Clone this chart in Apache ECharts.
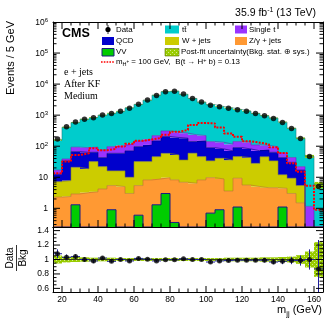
<!DOCTYPE html>
<html>
<head>
<meta charset="utf-8">
<script src="https://cdn.jsdelivr.net/npm/echarts@6/dist/echarts.min.js"></script>
<style>
html, body { margin: 0; padding: 0; background: #fff; }
#chart { width: 332px; height: 322px; }
</style>
</head>
<body>
<div id="chart"></div>
<script>
// bins of 5 GeV in m_jj
const binLow = [15, 20, 25, 30, 35, 40, 45, 50, 55, 60, 65, 70, 75, 80, 85, 90, 95, 100, 105, 110, 115, 120, 125, 130, 135, 140, 145, 150, 155, 160];
const binWidth = 5;

const dataCounts = [170, 420, 600, 740, 830, 1020, 1130, 1340, 1680, 2260, 3050, 4310, 5660, 5940, 4760, 3450, 2630, 2100, 1860, 1680, 1500, 1345, 1130, 950, 780, 580, 371, 177, 47, 5];

// backgrounds, bottom of the stack first
const vv = [0, 0, 1.3, 0, 0, 0, 0.9, 0, 0, 0.6, 0, 1.3, 3.0, 0.35, 0, 0, 0, 0.7, 0.9, 0, 1.1, 0, 0, 0, 0, 1.1, 0, 0, 0, 0];
const zjets = [2.3, 2.4, 1.6, 3.2, 3.4, 4.2, 4.5, 5.0, 3.0, 4.8, 8.2, 7.5, 6.7, 7.9, 6.9, 6.4, 8.2, 9.0, 7.9, 3.6, 8.2, 5.6, 5.0, 4.6, 4.6, 3.3, 3.0, 1.5, 0, 0];
const wjets = [4.9, 5.4, 18, 15.4, 28.6, 17.8, 10.6, 11, 7, 26.6, 23.8, 37, 49, 44, 29, 53, 38, 24, 32, 32, 37, 37, 23, 41, 29, 7.6, 6.3, 3.9, 0, 0];
const qcd = [5.3, 26, 46, 45, 32, 21, 43, 43, 61, 65, 78, 103, 146, 138, 145, 82, 103, 56, 41, 35, 44, 39, 43, 30, 30, 31, 21, 11.6, 0, 0];
const singleTop = [4.5, 5, 26, 26, 29, 33, 38, 46, 48, 51, 58, 71, 105, 92, 82, 91, 71, 51, 52, 45, 51, 52, 39, 30, 33, 18, 13, 5, 1.15, 0];
const ttbar = [140, 369, 484, 650, 754, 924, 1062, 1235, 1595, 2079, 2867, 4180, 5380, 5688, 4447, 3218, 2410, 2035, 1768, 1590, 1374, 1225, 1031, 854, 711, 534, 333, 158, 46, 5.7];

// signal m_H+ = 100 GeV
const signal = [13.5, 32, 52, 59, 86, 74, 82, 97, 119, 149, 165, 185, 235, 290, 335, 480, 560, 540, 400, 255, 200, 145, 130, 116, 93, 60, 28, 15, 5.3, 0.9];

// ratio pad
const ratio = [1.08, 1.03, 1.04, 1.0, 0.98, 1.02, 0.975, 1.0, 0.98, 1.015, 1.005, 0.98, 0.995, 0.995, 1.01, 1.0, 1.0, 0.965, 0.98, 0.985, 0.99, 0.99, 0.99, 0.99, 0.965, 0.975, 0.985, 0.985, 1.0, 0.87];
const ratioErr = [0.06, 0.04, 0.03, 0.03, 0.03, 0.02, 0.02, 0.02, 0.02, 0.02, 0.015, 0.015, 0.01, 0.01, 0.015, 0.015, 0.02, 0.02, 0.02, 0.02, 0.02, 0.02, 0.02, 0.03, 0.03, 0.04, 0.05, 0.07, 0.14, 0.4];
const bandErr = [0.055, 0.04, 0.035, 0.03, 0.025, 0.025, 0.025, 0.02, 0.02, 0.02, 0.02, 0.02, 0.02, 0.02, 0.02, 0.02, 0.02, 0.02, 0.02, 0.025, 0.025, 0.025, 0.025, 0.03, 0.03, 0.035, 0.04, 0.06, 0.11, 0.24];

// tick labels
const xTickLabels = [20, 40, 60, 80, 100, 120, 140, 160];
const yTickLabels = [1, 10, 100, 1000, 10000, 100000];
const ratioTickLabels = [0.6, 0.8, 1, 1.2, 1.4];

const xMin = 15, xMax = 165, yMin = 0.25, yMax = 1e6, rMin = 0.55, rMax = 1.45;
const FONT = '"Liberation Sans", Arial, "DejaVu Sans", sans-serif';
const SERIF = '"Liberation Serif", "Times New Roman", serif';
const LEG = 7.9;

const layers = [
    {values: vv, color: '#00cc00', line: '#1a1a80', lw: 1},
    {values: zjets, color: '#ff9933', line: '#b8732e', lw: 0.6},
    {values: wjets, color: '#cccc00', line: '#8c8c1a', lw: 0.6},
    {values: qcd, color: '#0000cc', line: '#00007a', lw: 0.6},
    {values: singleTop, color: '#9933ff', line: '#6a23b0', lw: 0.6},
    {values: ttbar, color: '#00cccc', line: '#1a8080', lw: 0.6},
];

function dots(base, dot) {
    const c = document.createElement('canvas');
    c.width = 4; c.height = 4;
    const g = c.getContext('2d');
    g.fillStyle = base; g.fillRect(0, 0, 4, 4);
    g.fillStyle = dot; g.fillRect(0, 0, 1, 1); g.fillRect(2, 2, 1, 1);
    return {image: c, repeat: 'repeat'};
}
const uncFill = dots('#99cc00', '#d6ec8c');

function rectItem(fill) {
    return function (params, api) {
        const lo = api.value(2), hi = api.value(3);
        if (!(hi > lo)) return null;
        const a = api.coord([api.value(0), hi]);
        const b = api.coord([api.value(1), lo]);
        return {type: 'rect', shape: {x: a[0], y: a[1], width: b[0] - a[0], height: b[1] - a[1]}, style: {fill}};
    };
}

const series = [];
const cum = binLow.map(() => 0);
layers.forEach(l => {
    const items = [];
    const tops = [];
    binLow.forEach((x, i) => {
        const base = cum[i];
        cum[i] += l.values[i];
        items.push([x, x + binWidth, Math.max(base, yMin), Math.max(cum[i], yMin)]);
        tops.push([x, Math.max(cum[i], yMin)]);
    });
    tops.push([xMax, tops[tops.length - 1][1]]);
    series.push({
        type: 'custom', xAxisIndex: 0, yAxisIndex: 0, z: 2, silent: true,
        encode: {x: [0, 1], y: [2, 3]},
        renderItem: rectItem(l.color), data: items,
    });
    series.push({
        type: 'line', xAxisIndex: 0, yAxisIndex: 0, z: 3, step: 'end', symbol: 'none', silent: true,
        lineStyle: {color: l.line, width: l.lw}, data: tops,
    });
});
const total = cum.slice();

// stat+sys band on top of the stack
series.push({
    type: 'custom', xAxisIndex: 0, yAxisIndex: 0, z: 3, silent: true,
    encode: {x: [0, 1], y: [2, 3]},
    renderItem: rectItem(uncFill),
    data: binLow.map((x, i) => [x, x + binWidth, total[i] * (1 - bandErr[i]), total[i] * (1 + bandErr[i])]),
});

// signal
const sig = binLow.map((x, i) => [x, signal[i]]);
sig.push([xMax, signal[signal.length - 1]]);
series.push({
    type: 'line', xAxisIndex: 0, yAxisIndex: 0, z: 4, step: 'end', symbol: 'none', silent: true,
    lineStyle: {color: '#ff0000', width: 2, type: [2, 1.3]}, data: sig,
});

// data
series.push({
    type: 'scatter', xAxisIndex: 0, yAxisIndex: 0, z: 5, silent: true,
    symbol: 'circle', symbolSize: 5.5, itemStyle: {color: '#000'},
    data: binLow.map((x, i) => [x + binWidth / 2, dataCounts[i]]),
});

// ratio pad
series.push({
    type: 'custom', xAxisIndex: 2, yAxisIndex: 2, z: 2, silent: true,
    encode: {x: [0, 1], y: [2, 3]},
    renderItem: rectItem(uncFill),
    data: binLow.map((x, i) => [x, x + binWidth, 1 - bandErr[i], 1 + bandErr[i]]),
});
series.push({
    type: 'line', xAxisIndex: 2, yAxisIndex: 2, z: 3, symbol: 'none', silent: true,
    lineStyle: {color: '#222', width: 0.8}, data: [[xMin, 1], [xMax, 1]],
});
series.push({
    type: 'custom', xAxisIndex: 2, yAxisIndex: 2, z: 4, silent: true,
    encode: {x: 0, y: 1},
    renderItem: function (params, api) {
        const xc = api.value(0), r = api.value(1), e = api.value(2);
        const l = api.coord([xc - binWidth / 2, r]), rr = api.coord([xc + binWidth / 2, r]);
        const up = api.coord([xc, Math.min(r + e, rMax)]), dn = api.coord([xc, Math.max(r - e, rMin)]);
        const st = {stroke: '#1c1c9c', lineWidth: 1};
        return {type: 'group', children: [
            {type: 'line', shape: {x1: l[0], y1: l[1], x2: rr[0], y2: rr[1]}, style: st},
            {type: 'line', shape: {x1: up[0], y1: up[1], x2: dn[0], y2: dn[1]}, style: st},
        ]};
    },
    data: binLow.map((x, i) => [x + binWidth / 2, ratio[i], ratioErr[i]]),
});
series.push({
    type: 'scatter', xAxisIndex: 2, yAxisIndex: 2, z: 5, silent: true,
    symbol: 'circle', symbolSize: 5, itemStyle: {color: '#000'},
    data: binLow.map((x, i) => [x + binWidth / 2, ratio[i]]),
});

// ROOT style ticks: [x, y, kind, length]; kind 0 bottom, 1 top, 2 left, 3 right
function tickSeries(xi, yi, ticks) {
    return {
        type: 'custom', xAxisIndex: xi, yAxisIndex: yi, z: 12, silent: true,
        encode: {x: 0, y: 1},
        renderItem: function (params, api) {
            const cs = params.coordSys;
            const p = api.coord([api.value(0), api.value(1)]);
            const k = api.value(2), len = api.value(3);
            let s;
            if (k === 0) s = {x1: p[0], y1: cs.y + cs.height, x2: p[0], y2: cs.y + cs.height - len};
            else if (k === 1) s = {x1: p[0], y1: cs.y, x2: p[0], y2: cs.y + len};
            else if (k === 2) s = {x1: cs.x, y1: p[1], x2: cs.x + len, y2: p[1]};
            else s = {x1: cs.x + cs.width, y1: p[1], x2: cs.x + cs.width - len, y2: p[1]};
            return {type: 'line', shape: s, style: {stroke: '#000', lineWidth: 1}};
        },
        data: ticks,
    };
}
const mainTicks = [];
const ratioTicks = [];
for (let x = xMin + binWidth; x < xMax; x += binWidth) {
    const major = xTickLabels.includes(x);
    mainTicks.push([x, yMin, 0, major ? 7 : 3.5], [x, yMin, 1, major ? 7 : 3.5]);
    ratioTicks.push([x, rMin, 0, major ? 6 : 3.5]);
}
yTickLabels.forEach(v => mainTicks.push([xMin, v, 2, 7], [xMin, v, 3, 7]));
for (let d = 0.1; d < yMax; d *= 10) {
    for (let m = 2; m <= 9; m++) {
        const v = m * d;
        if (v > yMin && v < yMax) mainTicks.push([xMin, v, 2, 3.5], [xMin, v, 3, 3.5]);
    }
}
for (let j = 1; j < 18; j++) {
    const v = +(rMin + j * 0.05).toFixed(2);
    const major = ratioTickLabels.some(t => Math.abs(t - v) < 1e-6);
    ratioTicks.push([xMin, v, 2, major ? 7 : 3.5], [xMin, v, 3, major ? 7 : 3.5]);
}
series.push(tickSeries(0, 0, mainTicks));
series.push(tickSeries(2, 2, ratioTicks));

const line = {show: true, onZero: false, lineStyle: {color: '#000', width: 1}};
const off = {show: false};
const xBase = {type: 'value', min: xMin, max: xMax, interval: binWidth, z: 10, axisLine: line, axisTick: off, splitLine: off};

function logLabel(v) {
    const e = Math.log10(v), r = Math.round(e);
    if (Math.abs(e - r) > 1e-6) return '';
    if (r === 0) return '{b|1}';
    if (r === 1) return '{b|10}';
    return '{b|10}{s|' + r + '}';
}

function legText(x, y, text) {
    return {type: 'text', x, y, style: {text, fontFamily: FONT, fontSize: LEG, fill: '#000', verticalAlign: 'middle'}};
}

const option = {
    animation: false,
    backgroundColor: '#fff',
    grid: [
        {left: 53, top: 22, width: 270, height: 205},
        {left: 53, top: 227, width: 270, height: 65},
    ],
    xAxis: [
        Object.assign({}, xBase, {gridIndex: 0, position: 'bottom', axisLabel: off}),
        Object.assign({}, xBase, {gridIndex: 0, position: 'top', axisLabel: off}),
        Object.assign({}, xBase, {gridIndex: 1, position: 'bottom', axisLabel: {
            margin: 3, color: '#000', fontFamily: FONT, fontSize: 8.5,
            formatter: v => (xTickLabels.includes(v) ? String(v) : ''),
        }}),
        Object.assign({}, xBase, {gridIndex: 1, position: 'top', axisLabel: off}),
    ],
    yAxis: [
        {gridIndex: 0, type: 'log', position: 'left', min: yMin, max: yMax, z: 10, axisLine: line, axisTick: off, splitLine: off,
            axisLabel: {margin: 5, color: '#000', formatter: logLabel,
                rich: {b: {fontFamily: FONT, fontSize: 8.5, verticalAlign: 'bottom'},
                       s: {fontFamily: FONT, fontSize: 6, verticalAlign: 'bottom', padding: [0, 0, 4, 0]}}}},
        {gridIndex: 0, type: 'log', position: 'right', min: yMin, max: yMax, z: 10, axisLine: line, axisTick: off, splitLine: off, axisLabel: off},
        {gridIndex: 1, type: 'value', position: 'left', min: rMin, max: rMax, interval: 0.05, z: 10, axisLine: line, axisTick: off, splitLine: off,
            axisLabel: {margin: 4, color: '#000', fontFamily: FONT, fontSize: 8.5,
                formatter: v => (ratioTickLabels.some(t => Math.abs(t - v) < 1e-6) ? String(+v.toFixed(1)) : '')}},
        {gridIndex: 1, type: 'value', position: 'right', min: rMin, max: rMax, interval: 0.05, z: 10, axisLine: line, axisTick: off, splitLine: off, axisLabel: off},
    ],
    graphic: [
        {type: 'text', x: 316, y: 13, style: {text: '{b|35.9 fb}{s|-1}{b| (13 TeV)}', align: 'right', verticalAlign: 'middle', fill: '#000',
            rich: {b: {fontFamily: FONT, fontSize: 10.5, verticalAlign: 'bottom'}, s: {fontFamily: FONT, fontSize: 7, verticalAlign: 'bottom', padding: [0, 0, 5, 0]}}}},
        {type: 'text', x: 62, y: 34, style: {text: 'CMS', fontFamily: FONT, fontWeight: 'bold', fontSize: 12.5, fill: '#000', align: 'left', verticalAlign: 'middle'}},
        {type: 'text', x: 64, y: 72, style: {text: 'e + jets', fontFamily: SERIF, fontSize: 10, fill: '#000', verticalAlign: 'middle'}},
        {type: 'text', x: 64, y: 84, style: {text: 'After KF', fontFamily: SERIF, fontSize: 10, fill: '#000', verticalAlign: 'middle'}},
        {type: 'text', x: 64, y: 96, style: {text: 'Medium', fontFamily: SERIF, fontSize: 10, fill: '#000', verticalAlign: 'middle'}},
        {type: 'text', x: 11, y: 21, rotation: Math.PI / 2, style: {text: 'Events / 5 GeV', fontFamily: FONT, fontSize: 11, fill: '#000', align: 'right', verticalAlign: 'middle'}},
        {type: 'text', x: 10, y: 258, rotation: Math.PI / 2, style: {text: 'Data', fontFamily: FONT, fontSize: 10, fill: '#000', align: 'center', verticalAlign: 'middle'}},
        {type: 'line', shape: {x1: 16.5, y1: 245, x2: 16.5, y2: 271}, style: {stroke: '#000', lineWidth: 0.8}},
        {type: 'text', x: 23, y: 258, rotation: Math.PI / 2, style: {text: 'Bkg', fontFamily: FONT, fontSize: 10, fill: '#000', align: 'center', verticalAlign: 'middle'}},
        {type: 'text', x: 322, y: 311, style: {text: '{b|m}{s|jj}{b| (GeV)}', align: 'right', verticalAlign: 'middle', fill: '#000',
            rich: {b: {fontFamily: FONT, fontSize: 11, verticalAlign: 'top'}, s: {fontFamily: FONT, fontSize: 7.5, verticalAlign: 'top', padding: [5, 0, 0, 0]}}}},
        // legend
        {type: 'line', shape: {x1: 108, y1: 25, x2: 108, y2: 34}, style: {stroke: '#000', lineWidth: 0.8}},
        {type: 'circle', shape: {cx: 108, cy: 29.5, r: 2.6}, style: {fill: '#000'}},
        legText(116, 29.5, 'Data'),
        {type: 'rect', shape: {x: 165, y: 25.5, width: 14, height: 8}, style: {fill: '#00cccc'}},
        legText(182, 29.5, 't\u0074\u0304'),
        {type: 'rect', shape: {x: 235, y: 25.5, width: 12, height: 8}, style: {fill: '#9933ff'}},
        legText(249, 29.5, 'Single t'),
        {type: 'rect', shape: {x: 102, y: 37, width: 12, height: 8}, style: {fill: '#0000cc'}},
        legText(116, 41, 'QCD'),
        {type: 'rect', shape: {x: 165, y: 37, width: 14, height: 8}, style: {fill: '#cccc00'}},
        legText(182, 41, 'W + jets'),
        {type: 'rect', shape: {x: 235, y: 37, width: 12, height: 8}, style: {fill: '#ff9933'}},
        legText(249, 41, 'Z/\u03b3 + jets'),
        {type: 'rect', shape: {x: 102, y: 48.5, width: 12, height: 7.5}, style: {fill: '#00cc00', stroke: '#1a1a80', lineWidth: 1}},
        legText(116, 52, 'VV'),
        {type: 'rect', shape: {x: 165, y: 48.5, width: 14, height: 7.5}, style: {fill: uncFill, stroke: '#5a7000', lineWidth: 0.6}},
        legText(181, 52, 'Post-fit uncertainty(Bkg. stat. \u2295 sys.)'),
        {type: 'line', shape: {x1: 101, y1: 62, x2: 114, y2: 62}, style: {stroke: '#ff0000', lineWidth: 1.6, lineDash: [1.6, 1.2]}},
        {type: 'text', x: 116, y: 62, style: {text: '{b|m}{s|H}{p|+}{b| = 100 GeV,  B(t \u2192 H}{q|+}{b| b) = 0.13}', fill: '#000', verticalAlign: 'middle',
            rich: {b: {fontFamily: FONT, fontSize: LEG, verticalAlign: 'middle'},
                   s: {fontFamily: FONT, fontSize: 5.5, verticalAlign: 'top', padding: [4, 0, 0, 0]},
                   p: {fontFamily: FONT, fontSize: 4.5, verticalAlign: 'top', padding: [2, 0, 0, 0]},
                   q: {fontFamily: FONT, fontSize: 5.5, verticalAlign: 'top'}}}},
    ],
    series: series,
};

const chart = echarts.init(document.getElementById('chart'));
chart.setOption(option);
</script>
</body>
</html>
